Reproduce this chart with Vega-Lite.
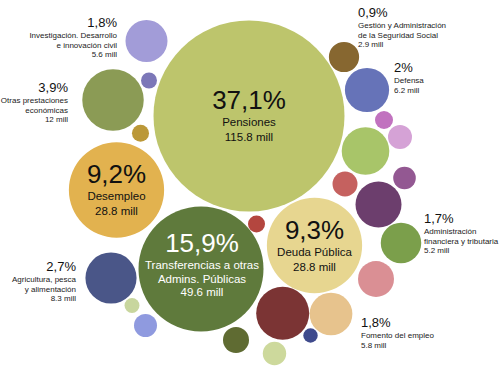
{
  "$schema": "https://vega.github.io/schema/vega-lite/v6.json",
  "autosize": {"type": "fit", "contains": "padding"},
  "width": 500,
  "height": 368,
  "padding": 0,
  "background": "white",
  "config": {"view": {"stroke": null}, "font": "Liberation Sans"},
  "datasets": {
    "bubbles": [
      {"name": "Pensiones", "mill": 115.8, "pct": "37,1%", "cx": 249, "cy": 116},
      {"name": "Transferencias a otras Admins. Públicas", "mill": 49.6, "pct": "15,9%", "cx": 201, "cy": 269},
      {"name": "Desempleo", "mill": 28.8, "pct": "9,2%", "cx": 116.5, "cy": 190},
      {"name": "Deuda Pública", "mill": 28.8, "pct": "9,3%", "cx": 314.5, "cy": 245.5},
      {"name": "Otras prestaciones económicas", "mill": 12, "pct": "3,9%", "cx": 113, "cy": 100},
      {"name": "Agricultura, pesca y alimentación", "mill": 8.3, "pct": "2,7%", "cx": 111, "cy": 278},
      {"name": "Defensa", "mill": 6.2, "pct": "2%", "cx": 367, "cy": 90},
      {"name": "Fomento del empleo", "mill": 5.8, "pct": "1,8%", "cx": 331, "cy": 314},
      {"name": "Investigación. Desarrollo e innovación civil", "mill": 5.6, "pct": "1,8%", "cx": 146.5, "cy": 41},
      {"name": "Administración financiera y tributaria", "mill": 5.2, "pct": "1,7%", "cx": 401, "cy": 243},
      {"name": "Gestión y Administración de la Seguridad Social", "mill": 2.9, "pct": "0,9%", "cx": 344, "cy": 57},
      {"name": "Otro 1", "mill": 0.81, "cx": 149, "cy": 80.5},
      {"name": "Otro 2", "mill": 0.92, "cx": 140.5, "cy": 133.3},
      {"name": "Otro 3", "mill": 0.71, "cx": 132, "cy": 305.5},
      {"name": "Otro 4", "mill": 1.68, "cx": 145.5, "cy": 325.5},
      {"name": "Otro 5", "mill": 2.15, "cx": 236, "cy": 340},
      {"name": "Otro 6", "mill": 1.03, "cx": 384, "cy": 120},
      {"name": "Otro 7", "mill": 1.83, "cx": 400, "cy": 137},
      {"name": "Otro 8", "mill": 7.19, "cx": 365.5, "cy": 151},
      {"name": "Otro 9", "mill": 1.98, "cx": 345, "cy": 184},
      {"name": "Otro 10", "mill": 1.62, "cx": 404.5, "cy": 178},
      {"name": "Otro 11", "mill": 6.72, "cx": 378.5, "cy": 204.5},
      {"name": "Otro 12", "mill": 4.11, "cx": 376, "cy": 279},
      {"name": "Otro 13", "mill": 0.92, "cx": 256.5, "cy": 224},
      {"name": "Otro 14", "mill": 8.92, "cx": 282.7, "cy": 313.3},
      {"name": "Otro 15", "mill": 0.66, "cx": 310.5, "cy": 335.5},
      {"name": "Otro 16", "mill": 1.74, "cx": 274.5, "cy": 353.5}
    ],
    "outer": [
      {"label": "Investigación. Desarrollo\ne innovación civil", "pct": "1,8%", "mill": 5.6, "lx": 117, "ly": 27, "side": "left"},
      {"label": "Otras prestaciones\neconómicas", "pct": "3,9%", "mill": 12, "lx": 68, "ly": 92, "side": "left"},
      {"label": "Agricultura, pesca\ny alimentación", "pct": "2,7%", "mill": 8.3, "lx": 76, "ly": 271, "side": "left"},
      {"label": "Gestión y Administración\nde la Seguridad Social", "pct": "0,9%", "mill": 2.9, "lx": 358, "ly": 17, "side": "right"},
      {"label": "Defensa", "pct": "2%", "mill": 6.2, "lx": 394, "ly": 72, "side": "right"},
      {"label": "Administración\nfinanciera y tributaria", "pct": "1,7%", "mill": 5.2, "lx": 424, "ly": 223, "side": "right"},
      {"label": "Fomento del empleo", "pct": "1,8%", "mill": 5.8, "lx": 361, "ly": 327, "side": "right"}
    ]
  },
  "layer": [
    {
      "data": {"name": "bubbles"},
      "mark": {"type": "point", "filled": true, "shape": "circle", "opacity": 1, "strokeWidth": 0},
      "encoding": {
        "x": {"field": "cx", "type": "quantitative", "scale": {"domain": [0, 500], "nice": false, "zero": false}, "axis": null},
        "y": {"field": "cy", "type": "quantitative", "scale": {"domain": [0, 368], "nice": false, "zero": false, "reverse": true}, "axis": null},
        "size": {"field": "mill", "type": "quantitative", "scale": {"type": "linear", "domain": [0, 115.8], "range": [0, 36481], "zero": true}, "legend": null},
        "color": {
          "field": "name", "type": "nominal", "legend": null,
          "scale": {
            "domain": ["Pensiones", "Transferencias a otras Admins. Públicas", "Desempleo", "Deuda Pública", "Otras prestaciones económicas", "Agricultura, pesca y alimentación", "Defensa", "Fomento del empleo", "Investigación. Desarrollo e innovación civil", "Administración financiera y tributaria", "Gestión y Administración de la Seguridad Social", "Otro 1", "Otro 2", "Otro 3", "Otro 4", "Otro 5", "Otro 6", "Otro 7", "Otro 8", "Otro 9", "Otro 10", "Otro 11", "Otro 12", "Otro 13", "Otro 14", "Otro 15", "Otro 16"],
            "range": ["#bdc56c", "#5f7a3c", "#e2b24f", "#e7d690", "#8b9b55", "#4a5688", "#6673b8", "#e7c38d", "#a29cd8", "#7b9f4b", "#876730", "#7c77b8", "#bb9838", "#c8d69e", "#8f9adf", "#5f6b32", "#c172bf", "#d5a2d6", "#a8c569", "#c5615f", "#935892", "#6c3e6d", "#da8f94", "#b4463f", "#7b3434", "#3f4a8c", "#cdd99c"]
          }
        }
      }
    },
    {
      "data": {"name": "bubbles"},
      "transform": [{"filter": {"field": "name", "oneOf": ["Pensiones", "Desempleo", "Deuda Pública"]}}],
      "mark": {"type": "text", "fontSize": 26, "align": "center", "baseline": "alphabetic", "dy": -7, "color": "#111111"},
      "encoding": {
        "x": {"field": "cx", "type": "quantitative"},
        "y": {"field": "cy", "type": "quantitative"},
        "text": {"field": "pct"}
      }
    },
    {
      "data": {"name": "bubbles"},
      "transform": [
        {"filter": {"field": "name", "oneOf": ["Pensiones", "Desempleo", "Deuda Pública"]}},
        {"calculate": "datum.name + '\\n' + datum.mill + ' mill'", "as": "txt"}
      ],
      "mark": {"type": "text", "fontSize": 11.5, "align": "center", "baseline": "alphabetic", "dy": 10, "lineBreak": "\n", "lineHeight": 15, "color": "#111111"},
      "encoding": {
        "x": {"field": "cx", "type": "quantitative"},
        "y": {"field": "cy", "type": "quantitative"},
        "text": {"field": "txt"}
      }
    },
    {
      "data": {"name": "bubbles"},
      "transform": [{"filter": {"field": "name", "equal": "Transferencias a otras Admins. Públicas"}}],
      "mark": {"type": "text", "fontSize": 26, "align": "center", "baseline": "alphabetic", "dy": -17, "dx": 1, "color": "white"},
      "encoding": {
        "x": {"field": "cx", "type": "quantitative"},
        "y": {"field": "cy", "type": "quantitative"},
        "text": {"field": "pct"}
      }
    },
    {
      "data": {"name": "bubbles"},
      "transform": [
        {"filter": {"field": "name", "equal": "Transferencias a otras Admins. Públicas"}},
        {"calculate": "'Transferencias a otras\\nAdmins. Públicas\\n' + datum.mill + ' mill'", "as": "txt"}
      ],
      "mark": {"type": "text", "fontSize": 11.5, "align": "center", "baseline": "alphabetic", "dy": 0, "dx": 1, "lineBreak": "\n", "lineHeight": 13.5, "color": "white"},
      "encoding": {
        "x": {"field": "cx", "type": "quantitative"},
        "y": {"field": "cy", "type": "quantitative"},
        "text": {"field": "txt"}
      }
    },
    {
      "data": {"name": "outer"},
      "transform": [{"filter": {"field": "side", "equal": "left"}}],
      "mark": {"type": "text", "fontSize": 13, "align": "right", "baseline": "alphabetic", "color": "#111111"},
      "encoding": {
        "x": {"field": "lx", "type": "quantitative"},
        "y": {"field": "ly", "type": "quantitative"},
        "text": {"field": "pct"}
      }
    },
    {
      "data": {"name": "outer"},
      "transform": [
        {"filter": {"field": "side", "equal": "left"}},
        {"calculate": "datum.label + '\\n' + datum.mill + ' mill'", "as": "txt"}
      ],
      "mark": {"type": "text", "fontSize": 8, "align": "right", "baseline": "alphabetic", "dy": 11, "lineBreak": "\n", "lineHeight": 9.7, "color": "#222222"},
      "encoding": {
        "x": {"field": "lx", "type": "quantitative"},
        "y": {"field": "ly", "type": "quantitative"},
        "text": {"field": "txt"}
      }
    },
    {
      "data": {"name": "outer"},
      "transform": [{"filter": {"field": "side", "equal": "right"}}],
      "mark": {"type": "text", "fontSize": 13, "align": "left", "baseline": "alphabetic", "color": "#111111"},
      "encoding": {
        "x": {"field": "lx", "type": "quantitative"},
        "y": {"field": "ly", "type": "quantitative"},
        "text": {"field": "pct"}
      }
    },
    {
      "data": {"name": "outer"},
      "transform": [
        {"filter": {"field": "side", "equal": "right"}},
        {"calculate": "datum.label + '\\n' + datum.mill + ' mill'", "as": "txt"}
      ],
      "mark": {"type": "text", "fontSize": 8, "align": "left", "baseline": "alphabetic", "dy": 11, "lineBreak": "\n", "lineHeight": 9.7, "color": "#222222"},
      "encoding": {
        "x": {"field": "lx", "type": "quantitative"},
        "y": {"field": "ly", "type": "quantitative"},
        "text": {"field": "txt"}
      }
    }
  ]
}
